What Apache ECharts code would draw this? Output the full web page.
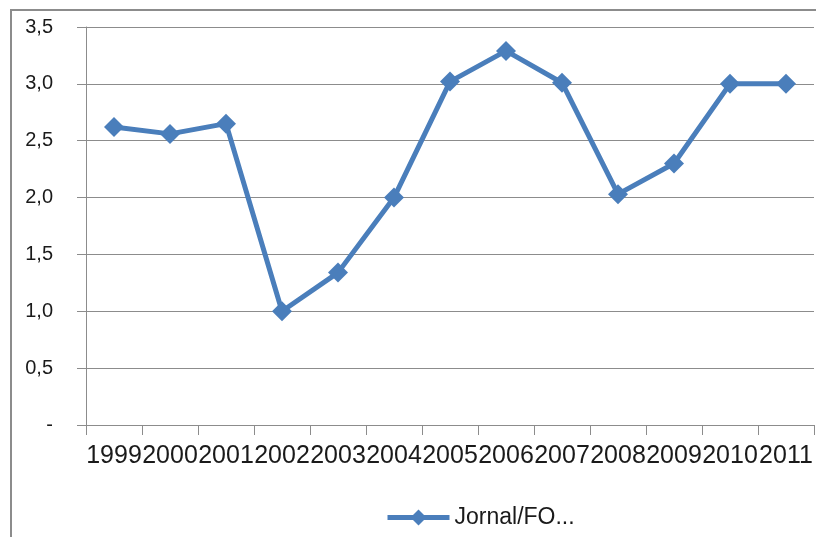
<!DOCTYPE html>
<html>
<head>
<meta charset="utf-8">
<script src="https://cdn.jsdelivr.net/npm/echarts@6/dist/echarts.min.js"></script>
<style>
html,body{margin:0;padding:0;background:#fff;}
#c{width:816px;height:537px;}
</style>
</head>
<body>
<div id="c"></div>
<script>
const categories = ['1999','2000','2001','2002','2003','2004','2005','2006','2007','2008','2009','2010','2011'];
const seriesName = 'Jornal/FO...';
const values = [2.62, 2.56, 2.65, 1.00, 1.34, 2.00, 3.02, 3.29, 3.01, 2.03, 2.30, 3.00, 3.00];
const yMin = 0, yMax = 3.5, yStep = 0.5;

const chart = echarts.init(document.getElementById('c'), null, {renderer: 'canvas'});
const fontFam = '"Liberation Sans", Arial, sans-serif';
chart.setOption({
  backgroundColor: '#fff',
  animation: false,
  graphic: [{
    type: 'rect',
    shape: {x: 11, y: 10, width: 900, height: 700},
    style: {fill: 'none', stroke: '#8c8c8c', lineWidth: 2},
    silent: true, z: -1
  }],
  grid: {left: 86, right: 2, top: 27, bottom: 112, containLabel: false},
  xAxis: {
    type: 'category',
    data: categories,
    boundaryGap: true,
    axisLine: {show: true, lineStyle: {color: '#8c8c8c', width: 1}},
    axisTick: {show: true, length: 10, interval: 0, lineStyle: {color: '#8c8c8c'}},
    axisLabel: {interval: 0, margin: 19, color: '#1a1a1a', fontSize: 25, fontFamily: fontFam, hideOverlap: false},
    splitLine: {show: false}
  },
  yAxis: {
    type: 'value',
    min: yMin, max: yMax, interval: yStep,
    axisLine: {show: true, lineStyle: {color: '#8c8c8c', width: 1}},
    axisTick: {show: true, length: 9, lineStyle: {color: '#8c8c8c'}},
    axisLabel: {
      margin: 33, color: '#1a1a1a', fontSize: 20, fontFamily: fontFam,
      formatter: v => v === 0 ? '-' : v.toFixed(1).replace('.', ',')
    },
    splitLine: {show: true, lineStyle: {color: '#8c8c8c', width: 1}}
  },
  legend: {
    bottom: 3, left: 380,
    itemWidth: 62, itemHeight: 20, itemGap: 4,
    lineStyle: {width: 5, color: '#4a7ebb'},
    textStyle: {fontSize: 23, fontFamily: fontFam, color: '#1a1a1a'},
    data: [seriesName]
  },
  series: [{
    name: seriesName,
    type: 'line',
    data: values,
    symbol: 'diamond',
    symbolSize: 20,
    lineStyle: {color: '#4a7ebb', width: 5},
    itemStyle: {color: '#4a7ebb'}
  }]
});
</script>
</body>
</html>
